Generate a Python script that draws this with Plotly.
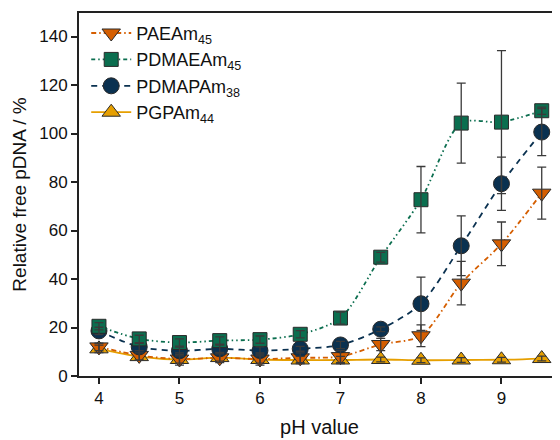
import plotly.graph_objects as go

ph = [4.0, 4.5, 5.0, 5.5, 6.0, 6.5, 7.0, 7.5, 8.0, 8.5, 9.0, 9.5]

paeam = [12.0, 8.5, 7.0, 7.5, 7.0, 7.5, 8.0, 13.0, 16.6, 38.3, 54.5, 75.4]
paeam_err = [1.5, 2.0, 2.5, 2.0, 2.5, 2.0, 2.5, 2.5, 4.5, 9.0, 9.0, 10.7]

pdmaeam = [20.5, 15.3, 13.8, 14.6, 15.0, 17.2, 23.9, 49.0, 72.7, 104.3, 104.7, 109.4]
pdmaeam_err = [1.5, 1.5, 1.5, 1.5, 1.5, 1.5, 2.5, 2.0, 13.7, 16.5, 29.5, 1.5]

pdmapam = [18.6, 12.0, 10.4, 11.2, 10.5, 11.2, 12.8, 19.3, 29.8, 53.7, 79.3, 100.6]
pdmapam_err = [1.5, 1.5, 1.5, 1.5, 1.5, 1.0, 1.5, 1.0, 11.0, 12.3, 11.0, 9.7]

pgpam = [11.2, 8.0, 6.8, 7.6, 6.8, 6.6, 6.6, 6.8, 6.5, 6.6, 6.7, 7.2]
pgpam_err = [1.5, 1.5, 1.5, 1.5, 1.5, 1.5, 1.5, 1.0, 1.0, 1.0, 1.0, 1.0]

names = ["PAEAm<sub>45</sub>", "PDMAEAm<sub>45</sub>", "PDMAPAm<sub>38</sub>", "PGPAm<sub>44</sub>"]
ys = [paeam, pdmaeam, pdmapam, pgpam]
errs = [paeam_err, pdmaeam_err, pdmapam_err, pgpam_err]
colors = ["#D55E00", "#0B6E4F", "#0A3150", "#E69F00"]
symbols = ["triangle-down", "square", "circle", "triangle-up"]
sizes = [16, 14, 16, 16]
dashes = ["5px,3px,1.5px,3px", "4px,3px,1.5px,3px,1.5px,3px", "6px,5px", "solid"]

fig = go.Figure()
order = [3, 0, 2, 1]
for i in order:
    fig.add_trace(go.Scatter(
        x=ph, y=ys[i], name=names[i], mode="lines+markers",
        line=dict(color=colors[i], width=1.8, dash=dashes[i], shape="spline", smoothing=0.8),
        marker=dict(symbol=symbols[i], size=sizes[i], color=colors[i],
                    line=dict(color="#2a2a2a", width=1)),
        legendrank=i,
    ))
# error bars drawn on top of the markers, as in the reference
for i in order:
    fig.add_trace(go.Scatter(
        x=ph, y=ys[i], mode="markers", showlegend=False, hoverinfo="skip",
        marker=dict(size=1, opacity=0),
        error_y=dict(type="data", array=errs[i], visible=True, color="#3a3a3a",
                     thickness=1.3, width=4.5),
    ))

fig.update_layout(
    width=552, height=432,
    margin=dict(l=71, r=0, t=5, b=64, autoexpand=False),
    paper_bgcolor="white", plot_bgcolor="white",
    font=dict(family="Liberation Sans, Arial, sans-serif", size=17, color="#111111"),
    showlegend=True,
    legend=dict(x=0.015, y=0.995, xanchor="left", yanchor="top",
                bgcolor="rgba(0,0,0,0)", font=dict(size=18),
                traceorder="normal", tracegroupgap=0, itemwidth=40),
    xaxis=dict(range=[3.752, 9.727], tickvals=[4, 5, 6, 7, 8, 9], automargin=False,
               showgrid=False, zeroline=False, showline=True, linecolor="#222222",
               linewidth=1.8, mirror=True, ticks="outside", ticklen=6, tickwidth=1.5,
               tickcolor="#222222", tickfont=dict(size=17),
               title=dict(text="pH value", font=dict(size=20), standoff=13)),
    yaxis=dict(range=[0, 149.7], tickvals=[0, 20, 40, 60, 80, 100, 120, 140], automargin=False,
               showgrid=False, zeroline=False, showline=True, linecolor="#222222",
               linewidth=1.8, ticks="outside", ticklen=6, tickwidth=1.5,
               tickcolor="#222222", tickfont=dict(size=17),
               title=dict(text="Relative free pDNA / %", font=dict(size=19), standoff=8)),
)

fig.write_html("out.html")
